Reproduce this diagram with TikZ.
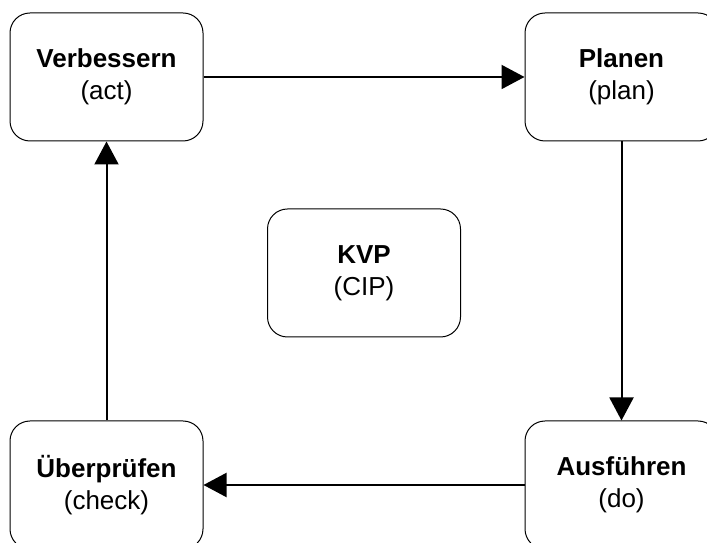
\documentclass[tikz,border=0pt]{standalone}
\usepackage{fontspec}
\setmainfont{Liberation Sans}
\usetikzlibrary{arrows.meta}
\begin{document}
\begin{tikzpicture}[x=1pt,y=1pt,
  stage/.style={draw, line width=1pt, rounded corners=20pt,
    minimum width=193pt, minimum height=128pt, inner sep=0pt,
    align=center, font=\fontsize{26}{32}\selectfont},
  flow/.style={line width=2pt, -{Triangle[length=23pt,width=24pt]}}]
\useasboundingbox (0,0) rectangle (707,543);
\clip (0,0) rectangle (707,543);
% PDCA cycle stages
\node[stage] (act)   at (106.5,466) {\textbf{Verbessern}\\(act)};
\node[stage] (plan)  at (621.5,466) {\textbf{Planen}\\(plan)};
\node[stage] (do)    at (621.5,58)  {\textbf{Ausführen}\\(do)};
\node[stage] (check) at (106.5,58)  {\textbf{Überprüfen}\\(check)};
\node[stage] (kvp)   at (364,270)   {\textbf{KVP}\\(CIP)};
% cycle arrows
\draw[flow] (act.east) -- (plan.west);
\draw[flow] (plan.south) -- (do.north);
\draw[flow] (do.west) -- (check.east);
\draw[flow] (check.north) -- (act.south);
\end{tikzpicture}
\end{document}
